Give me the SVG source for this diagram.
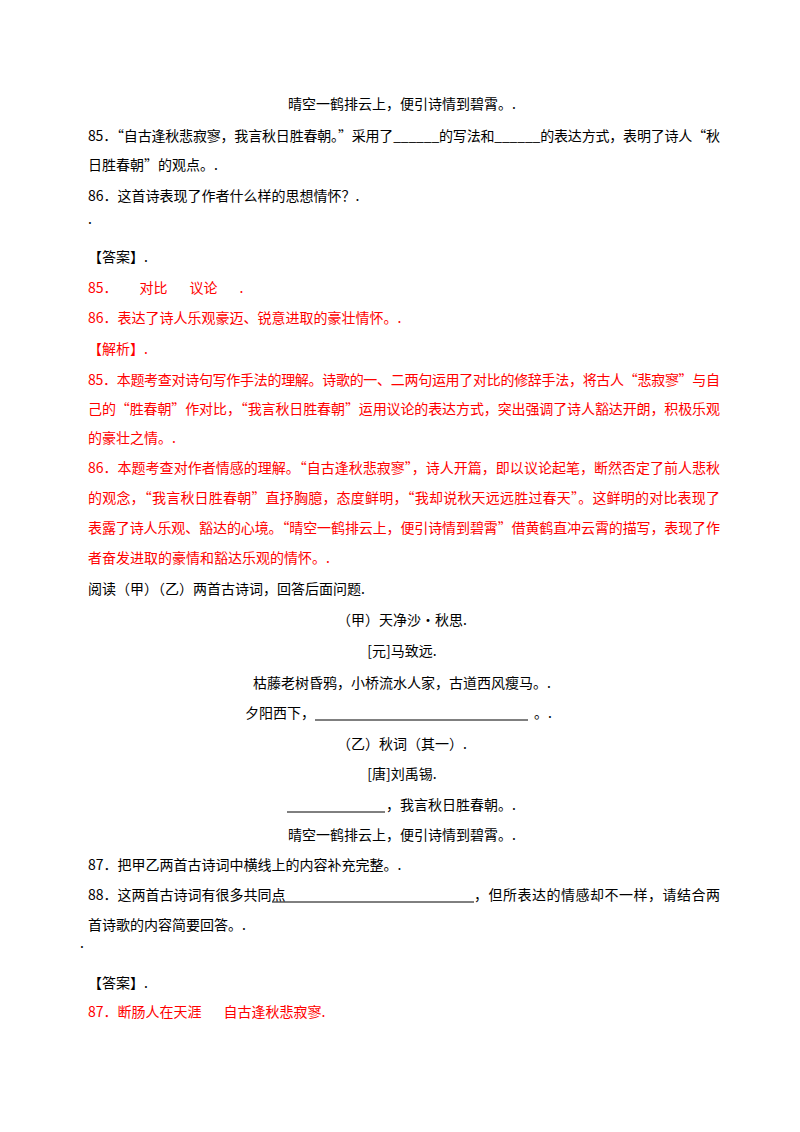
<svg xmlns="http://www.w3.org/2000/svg" width="800" height="1132" viewBox="0 0 800 1132">
<style>
text{font-family:"Noto Sans CJK SC","Liberation Serif",serif;font-size:14px;fill:#000}
.r{fill:#ff0000}
.c{text-anchor:middle}
</style>
<rect width="800" height="1132" fill="#fff"/>
<text x="402" y="109" class="c">晴空一鹤排云上，便引诗情到碧霄。.</text>
<text x="88" y="141" textLength="632" lengthAdjust="spacing">85．“自古逢秋悲寂寥，我言秋日胜春朝。”采用了______的写法和______的表达方式，表明了诗人“秋</text>
<text x="88" y="170">日胜春朝”的观点。.</text>
<text x="88" y="201">86．这首诗表现了作者什么样的思想情怀？.</text>
<text x="88" y="224" font-size="8">.</text>
<text x="88" y="262">【答案】.</text>
<text x="88" y="293" class="r" xml:space="preserve">85．       对比       议论       .</text>
<text x="88" y="323" class="r">86．表达了诗人乐观豪迈、锐意进取的豪壮情怀。.</text>
<text x="88" y="354" class="r">【解析】.</text>
<text x="88" y="385" class="r" textLength="632" lengthAdjust="spacing">85．本题考查对诗句写作手法的理解。诗歌的一、二两句运用了对比的修辞手法，将古人“悲寂寥”与自</text>
<text x="88" y="414" class="r" textLength="632" lengthAdjust="spacing">己的“胜春朝”作对比，“我言秋日胜春朝”运用议论的表达方式，突出强调了诗人豁达开朗，积极乐观</text>
<text x="88" y="443" class="r">的豪壮之情。.</text>
<text x="88" y="473" class="r" textLength="632" lengthAdjust="spacing">86．本题考查对作者情感的理解。“自古逢秋悲寂寥”，诗人开篇，即以议论起笔，断然否定了前人悲秋</text>
<text x="88" y="503" class="r" textLength="632" lengthAdjust="spacing">的观念，“我言秋日胜春朝”直抒胸臆，态度鲜明，“我却说秋天远远胜过春天”。这鲜明的对比表现了</text>
<text x="88" y="533" class="r" textLength="632" lengthAdjust="spacing">表露了诗人乐观、豁达的心境。“晴空一鹤排云上，便引诗情到碧霄”借黄鹤直冲云霄的描写，表现了作</text>
<text x="88" y="563" class="r">者奋发进取的豪情和豁达乐观的情怀。.</text>
<text x="88" y="594">阅读（甲）（乙）两首古诗词，回答后面问题.</text>
<text x="402" y="625" class="c">（甲）天净沙•秋思.</text>
<text x="402" y="656" class="c">[元]马致远.</text>
<text x="402" y="688" class="c">枯藤老树昏鸦，小桥流水人家，古道西风瘦马。.</text>
<text x="245" y="718">夕阳西下，</text>
<line x1="315" y1="720" x2="528" y2="720" stroke="#000" stroke-width="1"/>
<text x="534" y="718">。.</text>
<text x="402" y="749" class="c">（乙）秋词（其一）.</text>
<text x="402" y="779" class="c">[唐]刘禹锡.</text>
<line x1="287" y1="812" x2="385" y2="812" stroke="#000" stroke-width="1"/>
<text x="386" y="810">，我言秋日胜春朝。.</text>
<text x="402" y="840" class="c">晴空一鹤排云上，便引诗情到碧霄。.</text>
<text x="88" y="870">87．把甲乙两首古诗词中横线上的内容补充完整。.</text>
<text x="88" y="900">88．这两首古诗词有很多共同点</text>
<line x1="272" y1="902" x2="474" y2="902" stroke="#000" stroke-width="1"/>
<text x="474" y="900" textLength="246" lengthAdjust="spacing">，但所表达的情感却不一样，请结合两</text>
<text x="88" y="930">首诗歌的内容简要回答。.</text>
<text x="80" y="948" font-size="8">.</text>
<text x="88" y="988">【答案】.</text>
<text x="88" y="1017" class="r" xml:space="preserve">87．断肠人在天涯       自古逢秋悲寂寥.</text>
</svg>
